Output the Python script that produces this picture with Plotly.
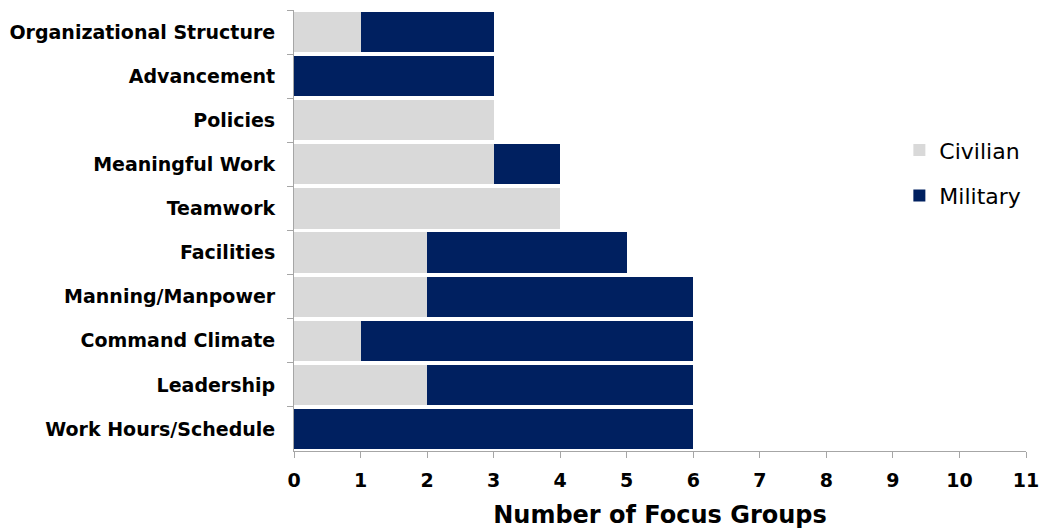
import plotly.graph_objects as go

categories = ["Organizational Structure", "Advancement", "Policies", "Meaningful Work",
              "Teamwork", "Facilities", "Manning/Manpower", "Command Climate",
              "Leadership", "Work Hours/Schedule"]
civilian = [1, 0, 3, 3, 4, 2, 2, 1, 2, 0]
military = [2, 3, 0, 1, 0, 3, 4, 5, 4, 6]
x_ticks = list(range(0, 12))

fig = go.Figure()
fig.add_trace(go.Bar(y=categories, x=civilian, name="Civilian", orientation="h",
                     legendgroup="c",
                     marker=dict(color="#d9d9d9", line=dict(width=0))))
fig.add_trace(go.Bar(y=categories, x=military, name="Military", orientation="h",
                     legendgroup="m",
                     marker=dict(color="#002060", line=dict(width=0))))

fig.update_layout(
    barmode="stack", bargap=0.09,
    width=1043, height=529,
    margin=dict(l=294, r=17, t=10, b=78, autoexpand=False),
    plot_bgcolor="white", paper_bgcolor="white",
    font=dict(family="DejaVu Sans", color="black"),
    legend=dict(x=0.827, y=0.63, xanchor="left", yanchor="middle",
                font=dict(size=22, family="DejaVu Sans"),
                traceorder="grouped", itemwidth=30, tracegroupgap=14),
    showlegend=True,
)
fig.update_xaxes(range=[0, 11], tickvals=x_ticks, ticks="outside", ticklen=6,
                 tickcolor="#a6a6a6", showline=True, linecolor="#a6a6a6",
                 showgrid=False, zeroline=False, ticklabelstandoff=6,
                 tickfont=dict(size=19, family="DejaVu Sans", weight="bold"),
                 title=dict(text="<b>Number of Focus Groups</b>", font=dict(size=24), standoff=16))
fig.update_yaxes(autorange="reversed", ticks="outside", tickson="boundaries", ticklen=6,
                 tickcolor="#a6a6a6", showline=True, linecolor="#a6a6a6",
                 showgrid=False, ticklabelstandoff=14,
                 tickfont=dict(size=19, family="DejaVu Sans", weight="bold"))

fig.write_html("out.html")
